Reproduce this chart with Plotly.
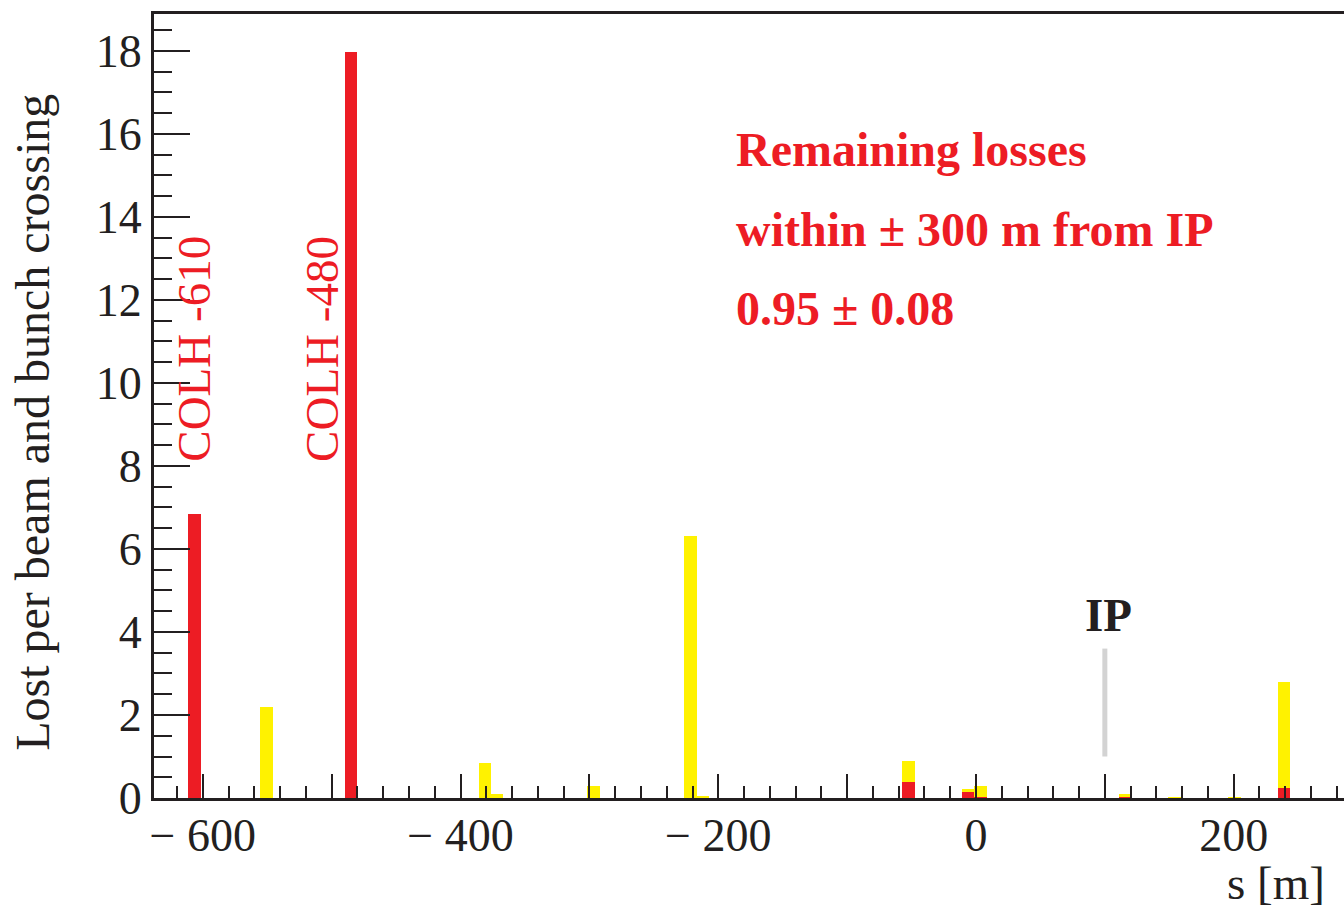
import plotly.graph_objects as go

# ---- data ----
s_center = [-606.5, -550.6, -484.8, -381.0, -371.5, -296.9, -221.6, -212.3,
            -52.4, -6.2, 3.5, 115.9, 154.0, 200.6, 238.8]
red_loss = [6.85, 0, 17.97, 0, 0, 0, 0, 0,
            0.375, 0.156, 0.035, 0.045, 0, 0, 0.25]
yellow_loss = [0, 2.20, 0, 0.855, 0.085, 0.30, 6.32, 0.06,
               0.525, 0.05, 0.25, 0.04, 0.02, 0.02, 2.55]
bin_width = 9.6

x_tickvals = [-600, -500, -400, -300, -200, -100, 0, 100, 200]
x_ticktext = ["\u2212 600", "", "\u2212 400", "", "\u2212 200", "", "0", "", "200"]
y_tickvals = [0, 2, 4, 6, 8, 10, 12, 14, 16, 18]
y_ticktext = ["0", "2", "4", "6", "8", "10", "12", "14", "16", "18"]

ip_s = [100, 100]
ip_y = [1.0, 3.6]

collimators = ["COLH -610", "COLH -480"]
coll_label_s = [-607.5, -508.0]
coll_label_y = [10.83, 10.83]

summary_lines = ["Remaining losses", "within \u00b1 300 m from IP", "0.95 \u00b1 0.08"]
summary_y = [15.62, 13.69, 11.79]

RED = "#ed1c24"
YEL = "#fff200"
INK = "#231f20"
FONT = "Liberation Serif"

fig = go.Figure()
fig.add_trace(go.Bar(x=s_center, y=red_loss, width=bin_width,
                     marker=dict(color=RED, line=dict(width=0)), showlegend=False))
fig.add_trace(go.Bar(x=s_center, y=yellow_loss, width=bin_width,
                     marker=dict(color=YEL, line=dict(width=0)), showlegend=False))
fig.add_trace(go.Scatter(x=ip_s, y=ip_y, mode="lines",
                         line=dict(color="#d3d3d3", width=5), showlegend=False,
                         hoverinfo="skip"))

ann = []
for t, xs, ys in zip(collimators, coll_label_s, coll_label_y):
    ann.append(dict(x=xs, y=ys, xref="x", yref="y", text=t, showarrow=False,
                    textangle=-90, xanchor="center", yanchor="middle",
                    font=dict(family=FONT, size=47, color=RED)))
for t, ys in zip(summary_lines, summary_y):
    ann.append(dict(x=-188, y=ys, xref="x", yref="y", text="<b>" + t + "</b>",
                    showarrow=False, xanchor="left", yanchor="middle",
                    font=dict(family=FONT, size=48, color=RED)))
ann.append(dict(x=102.7, y=4.40, xref="x", yref="y", text="<b>IP</b>",
                showarrow=False, xanchor="center", yanchor="middle",
                font=dict(family=FONT, size=47, color=INK)))
ann.append(dict(x=-0.098, y=0.479, xref="paper", yref="paper", xshift=-5,
                text="Lost per beam and bunch crossing", showarrow=False,
                textangle=-90, xanchor="center", yanchor="middle",
                font=dict(family=FONT, size=48, color=INK)))
ann.append(dict(x=0.9815, y=-0.108, xref="paper", yref="paper", xshift=5,
                text="s [m]", showarrow=False, xanchor="right", yanchor="middle",
                font=dict(family=FONT, size=47, color=INK)))

fig.update_layout(
    width=1344, height=910,
    margin=dict(l=154, r=0, t=14, b=111.5),
    paper_bgcolor="white", plot_bgcolor="white",
    barmode="stack", bargap=0,
    annotations=ann,
    font=dict(family=FONT, color=INK),
)
fig.update_xaxes(
    range=[-637.9, 285.6], showgrid=False, zeroline=False,
    showline=True, linewidth=3, linecolor=INK, mirror=True,
    ticks="inside", ticklen=24, tickwidth=2, tickcolor=INK,
    tickmode="array", tickvals=x_tickvals, ticktext=x_ticktext,
    tickfont=dict(family=FONT, size=46, color=INK), ticklabelstandoff=-5,
    minor=dict(ticks="inside", dtick=20, tick0=0, ticklen=12, tickwidth=2, tickcolor=INK),
)
fig.update_yaxes(
    range=[0, 18.89], showgrid=False, zeroline=False,
    showline=True, linewidth=3, linecolor=INK,
    ticks="inside", ticklen=36, tickwidth=2, tickcolor=INK,
    tickmode="array", tickvals=y_tickvals, ticktext=y_ticktext,
    tickfont=dict(family=FONT, size=46, color=INK),
    minor=dict(ticks="inside", dtick=0.5, tick0=0, ticklen=18, tickwidth=2, tickcolor=INK),
)

page_fix = ("document.documentElement.style.overflow='hidden';"
            "document.body.style.margin='0';document.body.style.overflow='hidden';")
fig.write_html("out.html", post_script=page_fix, config={"displayModeBar": False})
